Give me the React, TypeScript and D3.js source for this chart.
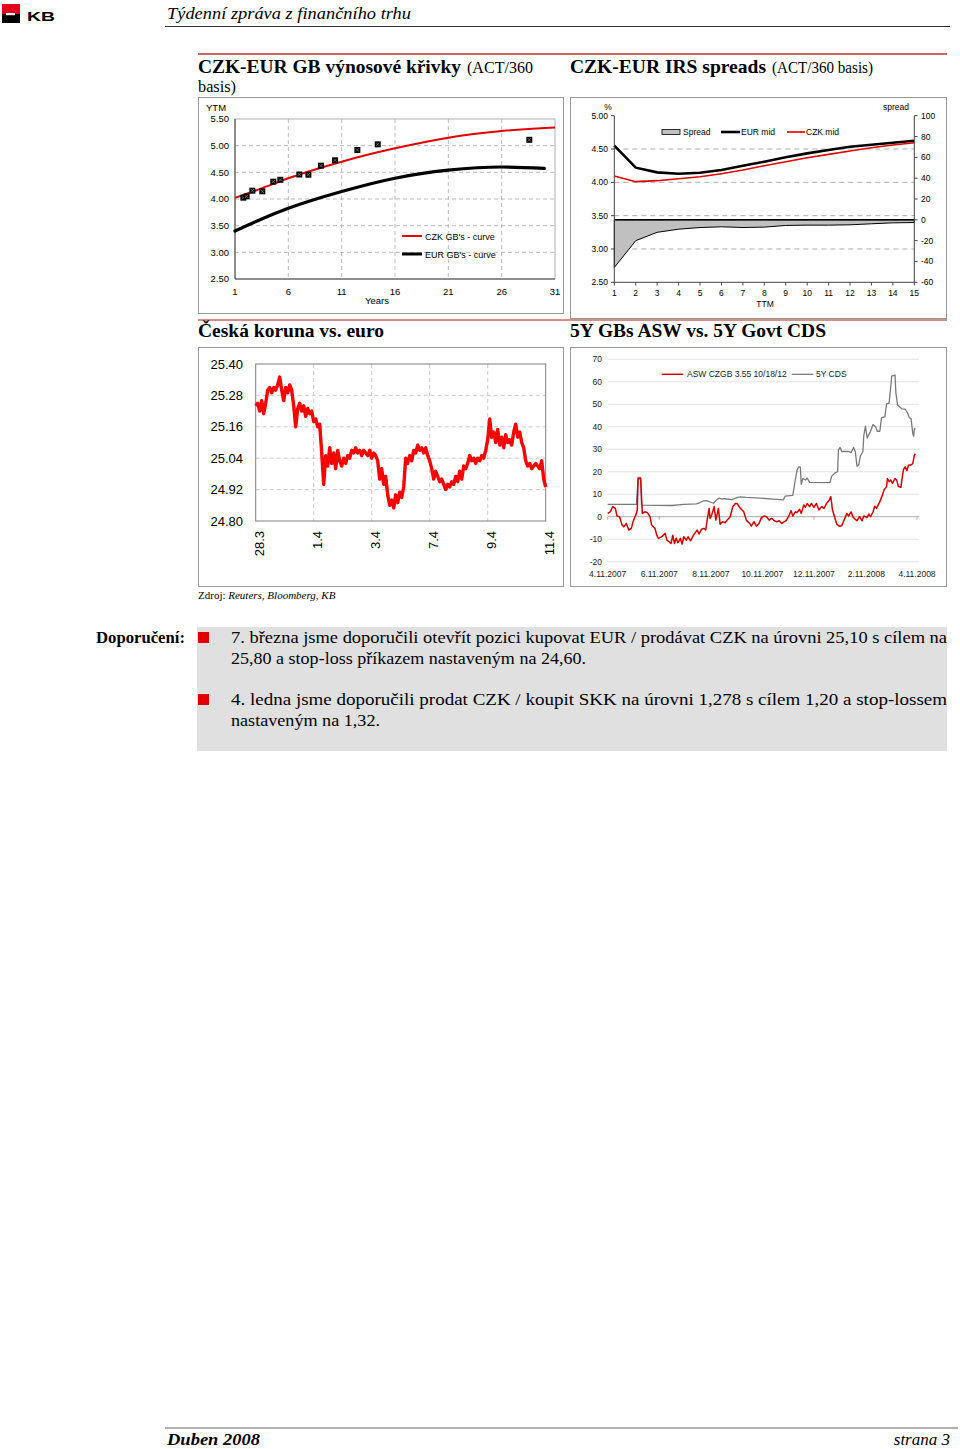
import React from "react";
import * as d3 from "d3";

const SERIF = "'Liberation Serif','Times New Roman',serif";
const SANS = "'Liberation Sans',Arial,sans-serif";

// ---------- Chart 1: CZK-EUR GB yield curves ----------
const gbTicksX = [1, 6, 11, 16, 21, 26, 31];
const gbTicksY = [5.5, 5.0, 4.5, 4.0, 3.5, 3.0, 2.5];
const czkCurveYears = [1, 3.5, 6, 11, 16, 21, 26, 31];
const czkCurveYtm = [4.02, 4.2, 4.39, 4.7, 4.95, 5.15, 5.275, 5.34];
const eurCurveYears = [1, 3.5, 6, 11, 16, 21, 26, 30];
const eurCurveYtm = [3.4, 3.625, 3.825, 4.14, 4.39, 4.54, 4.6, 4.575];
const czkBondYears = [1.78, 2.09, 2.63, 3.56, 4.59, 5.25, 7.03, 7.88, 9.06, 10.38, 12.47, 14.38, 28.59];
const czkBondYtm = [4.025, 4.05, 4.156, 4.144, 4.325, 4.36, 4.46, 4.456, 4.625, 4.725, 4.919, 5.025, 5.11];

// ---------- Chart 2: CZK-EUR IRS spreads ----------
const ttm = [1, 2, 3, 4, 5, 6, 7, 8, 9, 10, 11, 12, 13, 14, 15];
const eurMid = [4.55, 4.22, 4.15, 4.13, 4.145, 4.185, 4.25, 4.31, 4.375, 4.435, 4.485, 4.535, 4.565, 4.595, 4.625];
const czkMid = [4.095, 4.01, 4.025, 4.055, 4.085, 4.13, 4.185, 4.25, 4.31, 4.37, 4.42, 4.47, 4.52, 4.56, 4.595];
const spreadBp = [-45.8, -20, -12, -9, -7.4, -6.7, -7.4, -7, -5.4, -5.1, -5.1, -4.8, -3.8, -2.9, -2.6];
const irsLeftTicks = [5.0, 4.5, 4.0, 3.5, 3.0, 2.5];
const irsRightTicks = [100, 80, 60, 40, 20, 0, -20, -40, -60];

// ---------- Chart 3: EUR/CZK ----------
const fxTickDays = [0, 2, 4, 6, 8, 10];
const fxTickLabels = ["28.3", "1.4", "3.4", "7.4", "9.4", "11.4"];
const fxTicksY = [25.4, 25.28, 25.16, 25.04, 24.92, 24.8];
const eurczk = [
  25.24, 25.25, 25.22, 25.26, 25.21, 25.25, 25.3, 25.31, 25.29, 25.31,
  25.3, 25.32, 25.35, 25.3, 25.26, 25.31, 25.29, 25.32, 25.3, 25.24,
  25.16, 25.23, 25.25, 25.22, 25.24, 25.2, 25.23, 25.21, 25.22, 25.18,
  25.19, 25.16, 25.17, 25.06, 24.94, 25.05, 25.01, 25.08, 25.02, 25.06,
  25.0, 25.07, 25.03, 25.01, 25.04, 25.02, 25.05, 25.04, 25.07, 25.06,
  25.08, 25.06, 25.07, 25.05, 25.07, 25.06, 25.05, 25.07, 25.04, 25.06,
  25.05, 25.03, 24.96, 25.0, 24.94, 24.97, 24.9, 24.86, 24.88, 24.85,
  24.9, 24.87, 24.91, 24.89, 24.93, 25.04, 25.02, 25.05, 25.03, 25.07,
  25.06, 25.09, 25.07, 25.08, 25.06, 25.08, 25.05, 25.03, 25.0, 24.96,
  24.99, 24.97, 24.95, 24.96, 24.94, 24.92, 24.94, 24.93, 24.95, 24.94,
  24.97, 24.95, 24.99, 24.96, 25.01, 25.0, 25.02, 25.05, 25.03, 25.04,
  25.02, 25.04, 25.03, 25.05, 25.04, 25.07, 25.11, 25.19, 25.12, 25.14,
  25.1, 25.15, 25.09, 25.12, 25.08, 25.13, 25.1, 25.11, 25.09, 25.14,
  25.17, 25.12, 25.14, 25.1, 25.08, 25.03, 25.01, 25.02, 25.0, 25.01,
  25.02, 25.01, 25.0, 25.03, 24.96, 24.93,
];

// ---------- Chart 4: ASW vs CDS ----------
const aswStart = new Date(2007, 3, 11);
const aswEnd = new Date(2008, 3, 11);
const aswTickDates = [
  new Date(2007, 3, 11), new Date(2007, 5, 11), new Date(2007, 7, 11), new Date(2007, 9, 11),
  new Date(2007, 11, 11), new Date(2008, 1, 11), new Date(2008, 3, 11),
];
const aswTickLabels = ["4.11.2007", "6.11.2007", "8.11.2007", "10.11.2007", "12.11.2007", "2.11.2008", "4.11.2008"];
const aswTicksY = [70, 60, 50, 40, 30, 20, 10, 0, -10, -20];
const aswDays = [
  0, 3, 6, 9, 11, 14, 17, 19, 22, 25, 28, 30, 34, 35, 36, 39, 41, 44, 47, 50,
  52, 56, 58, 60, 64, 68, 70, 72, 75, 77, 79, 81, 83, 86, 88, 90, 93, 95, 98, 101,
  103, 106, 108, 111, 114, 116, 118, 120, 121, 123, 126, 128, 131, 133, 136, 139, 142, 145, 148, 151,
  153, 157, 159, 161, 164, 168, 170, 173, 176, 179, 182, 185, 188, 191, 194, 197, 200, 203, 206, 209,
  211, 214, 217, 219, 222, 224, 227, 229, 232, 234, 236, 239, 241, 244, 247, 250, 253, 256, 259, 262,
  264, 266, 269, 271, 274, 277, 280, 283, 285, 288, 290, 293, 295, 298, 301, 303, 307, 309, 311, 314,
  316, 318, 321, 322, 325, 327, 330, 331, 333, 335, 337, 340, 342, 344, 347, 348, 350, 352, 354, 356,
  359, 361, 363, 364,
];
const aswValues = [
  1.5, 2.2, 4.5, 3.7, 0.3, 0, -3.7, -4.5, -3, -5.9,
  -5.2, -2.2, 1.5, 3, 17, 17, 1.5, 2.2, 1.8, 0,
  -3.7, -5.2, -8.2, -9.6, -8.9, -7.4, -10.4, -11, -11.9, -8.2,
  -11.9, -9.6, -11.6, -9.6, -12.2, -8.9, -10.4, -8.9, -10.7, -8.5,
  -7.4, -5.9, -7.7, -5.6, -5.2, -5.9, -0.7, 3.7, -0.7, 0.7,
  4.5, -1.5, 3.7, -3.3, -2.2, -2.7, -1.2, 0, 4.5, 5.9,
  5.9, 3.7, 3, 2.2, -1.5, -3, -4.2, -2.2, -4.2, -3,
  -0.3, 0.3, 0, -1.5, -0.7, -1.8, -2.2, -1.8, -3, -2.2,
  -1.8, 0, 2.7, 0.3, 2.2, 1.8, 3.3, 1.5, 5.2, 4.2,
  5.9, 4.5, 5.9, 4.2, 5.9, 3, 4.5, 3.7, 5.9, 7.4,
  8.9, 3, -0.7, -3.3, -4.2, -4, -1.2, 1.5, 0.3, 2.2,
  0, -1.2, -1.8, 0, -1.8, 0.3, -0.3, 1.2, 0, 2.2,
  4.7, 3.7, 5.9, 6.7, 9.6, 11.9, 13.4, 17, 15.6, 16.3,
  14.8, 17, 16.3, 13.4, 13.1, 16.3, 21, 22.2, 20.5, 23,
  23, 23.7, 27.4, 28,
];
const cdsDays = [
  0, 34, 36, 39, 40, 76, 90, 105, 109, 113, 117, 125, 129, 132, 135, 138, 147, 153, 157, 164,
  180, 196, 208, 210, 219, 221, 224, 226, 228, 229, 231, 234, 236, 239, 263, 265, 269, 272, 273, 275,
  277, 285, 288, 291, 293, 295, 297, 299, 302, 303, 305, 307, 309, 311, 314, 317, 319, 322, 324, 328,
  330, 333, 335, 336, 340, 341, 343, 348, 352, 355, 357, 359, 361, 362, 363, 364,
];
const cdsValues = [
  5.5, 5.5, 17.5, 17.5, 5.2, 5.0, 5.5, 5.7, 6.3, 7.0, 7.2, 6.0, 7.5, 8.3, 7.8, 8.0, 7.6, 8.5, 8.8, 8.6,
  8.3, 7.8, 7.5, 9.2, 9.5, 14, 20.7, 22.2, 22, 14.4, 17, 16.3, 17.2, 15.3, 15.2, 18, 19.5, 20, 29.6, 30.8,
  29, 29, 28.5, 30.8, 29, 22.5, 23, 27, 29, 36, 40.3, 35, 36.5, 38, 41, 40, 38, 38, 44, 44.5,
  50.2, 50.5, 58, 62.5, 63, 55, 49.7, 48, 47.8, 46, 44, 43.5, 37, 35.8, 39.3, 38.8,
];

// ---------- Text ----------
const recLines = [
  "7. března jsme doporučili otevřít pozici kupovat EUR / prodávat CZK na úrovni 25,10 s cílem na",
  "25,80 a stop-loss příkazem nastaveným na 24,60.",
  "4. ledna jsme doporučili prodat CZK / koupit SKK na úrovni 1,278 s cílem 1,20 a stop-lossem",
  "nastaveným na 1,32.",
];

function YieldCurves() {
  const x = d3.scaleLinear().domain([1, 31]).range([235, 555]);
  const y = d3.scaleLinear().domain([2.5, 5.5]).range([279, 119]);
  const mk = (xs: number[], ys: number[]) =>
    d3
      .line<number>()
      .x((d) => x(d))
      .y((_, i) => y(ys[i]))
      .curve(d3.curveMonotoneX)(xs) as string;
  return (
    <g fontFamily={SANS}>
      <rect x={235} y={119} width={320} height={160} fill="#fff" stroke="#999" strokeWidth={0.8} />
      {gbTicksY.slice(1, -1).map((t) => (
        <line key={t} x1={235} x2={555} y1={y(t)} y2={y(t)} stroke="#aaa" strokeDasharray="4,3" strokeWidth={0.8} />
      ))}
      {gbTicksX.slice(1, -1).map((t) => (
        <line key={t} x1={x(t)} x2={x(t)} y1={119} y2={279} stroke="#aaa" strokeDasharray="4,3" strokeWidth={0.8} />
      ))}
      <line x1={235} x2={235} y1={119} y2={279} stroke="#444" />
      <line x1={235} x2={555} y1={279} y2={279} stroke="#444" />
      {gbTicksY.map((t) => (
        <text key={t} x={229} y={y(t)} dy="0.35em" fontSize={9.5} textAnchor="end" fill="#000">
          {t.toFixed(2)}
        </text>
      ))}
      {gbTicksX.map((t) => (
        <text key={t} x={x(t)} y={295} fontSize={9.5} textAnchor="middle" fill="#000">
          {t}
        </text>
      ))}
      <text x={206} y={111} fontSize={9.5}>YTM</text>
      <text x={377} y={304} fontSize={9.5} textAnchor="middle">Years</text>
      <path d={mk(eurCurveYears, eurCurveYtm)} fill="none" stroke="#000" strokeWidth={3.2} strokeLinecap="round" />
      <path d={mk(czkCurveYears, czkCurveYtm)} fill="none" stroke="#e00000" strokeWidth={2} />
      {czkBondYears.map((b, i) => (
        <g key={i} transform={`translate(${x(b)},${y(czkBondYtm[i])})`}>
          <rect x={-3} y={-3} width={6} height={6} fill="#000" />
          <path d="M-1.6,-1.6L1.6,1.6M-1.6,1.6L1.6,-1.6" stroke="#888" strokeWidth={0.7} />
        </g>
      ))}
      <line x1={402} x2={422} y1={236} y2={236} stroke="#e00000" strokeWidth={2} />
      <text x={425} y={239.5} fontSize={9}>CZK GB's - curve</text>
      <line x1={402} x2={422} y1={254} y2={254} stroke="#000" strokeWidth={3} />
      <text x={425} y={257.5} fontSize={9}>EUR GB's - curve</text>
    </g>
  );
}

function IrsSpreads() {
  const x = d3.scaleLinear().domain([1, 15]).range([614.3, 914.3]);
  const yL = d3.scaleLinear().domain([2.5, 5]).range([282.3, 115.7]);
  const yR = d3.scaleLinear().domain([-60, 100]).range([282.3, 115.7]);
  const lineOf = (vals: number[]) =>
    d3.line<number>().x((d) => x(d)).y((_, i) => yL(vals[i]))(ttm) as string;
  const area = d3
    .area<number>()
    .x((d) => x(d))
    .y0(() => yR(0))
    .y1((_, i) => yR(spreadBp[i]))(ttm) as string;
  return (
    <g fontFamily={SANS}>
      {[4.5, 4.0, 3.5, 3.0].map((t) => (
        <line key={t} x1={614.3} x2={914.3} y1={yL(t)} y2={yL(t)} stroke="#999" strokeDasharray="5,4" strokeWidth={0.8} />
      ))}
      <path d={area} fill="#c0c0c0" stroke="#000" strokeWidth={1} />
      <line x1={x(1)} x2={x(15)} y1={yR(0)} y2={yR(0)} stroke="#000" strokeWidth={1.5} />
      <path d={lineOf(eurMid)} fill="none" stroke="#000" strokeWidth={2.6} />
      <path d={lineOf(czkMid)} fill="none" stroke="#e00000" strokeWidth={1.6} />
      <line x1={614.3} x2={614.3} y1={115.7} y2={282.3} stroke="#444" />
      <line x1={914.3} x2={914.3} y1={115.7} y2={282.3} stroke="#444" />
      <line x1={614.3} x2={914.3} y1={282.3} y2={282.3} stroke="#444" />
      {irsLeftTicks.map((t) => (
        <g key={t}>
          <line x1={611} x2={614.3} y1={yL(t)} y2={yL(t)} stroke="#444" />
          <text x={608} y={yL(t)} dy="0.35em" fontSize={8.5} textAnchor="end">
            {t.toFixed(2)}
          </text>
        </g>
      ))}
      {irsRightTicks.map((t) => (
        <g key={t}>
          <line x1={914.3} x2={917.5} y1={yR(t)} y2={yR(t)} stroke="#444" />
          <text x={921} y={yR(t)} dy="0.35em" fontSize={8.5}>
            {t}
          </text>
        </g>
      ))}
      {ttm.map((t) => (
        <g key={t}>
          <line x1={x(t)} x2={x(t)} y1={282.3} y2={285.5} stroke="#444" />
          <text x={x(t)} y={296} fontSize={8.5} textAnchor="middle">
            {t}
          </text>
        </g>
      ))}
      <text x={765} y={307} fontSize={8.5} textAnchor="middle">TTM</text>
      <text x={608} y={110} fontSize={8.5} textAnchor="middle">%</text>
      <text x={896} y={110} fontSize={8.5} textAnchor="middle">spread</text>
      <rect x={662} y={129.5} width={18} height={5} fill="#c0c0c0" stroke="#000" strokeWidth={0.8} />
      <text x={683} y={135} fontSize={8.5}>Spread</text>
      <line x1={721} x2={740} y1={132} y2={132} stroke="#000" strokeWidth={2.6} />
      <text x={741} y={135} fontSize={8.5}>EUR mid</text>
      <line x1={787} x2={805} y1={132} y2={132} stroke="#e00000" strokeWidth={1.6} />
      <text x={806} y={135} fontSize={8.5}>CZK mid</text>
    </g>
  );
}

function EurCzk() {
  const x = d3.scaleLinear().domain([0, 10]).range([255.7, 545.7]);
  const y = d3.scaleLinear().domain([24.8, 25.4]).range([521, 364]);
  const step = 10 / (eurczk.length - 1);
  const path = d3
    .line<number>()
    .x((_, i) => x(i * step))
    .y((d) => y(d))(eurczk) as string;
  return (
    <g fontFamily={SANS}>
      {fxTicksY.slice(1, -1).map((t) => (
        <line key={t} x1={255.7} x2={545.7} y1={y(t)} y2={y(t)} stroke="#bbb" strokeDasharray="4,3" strokeWidth={0.8} />
      ))}
      {fxTickDays.slice(1, -1).map((t) => (
        <line key={t} x1={x(t)} x2={x(t)} y1={364} y2={521} stroke="#bbb" strokeDasharray="4,3" strokeWidth={0.8} />
      ))}
      <rect x={255.7} y={364} width={290} height={157} fill="none" stroke="#808080" strokeWidth={1} />
      {fxTicksY.map((t) => (
        <text key={t} x={243} y={y(t)} dy="0.36em" fontSize={13} textAnchor="end">
          {t.toFixed(2)}
        </text>
      ))}
      {fxTickDays.map((t, i) => (
        <text key={t} transform={`translate(${x(t) + 8},531) rotate(-90)`} fontSize={13} textAnchor="end">
          {fxTickLabels[i]}
        </text>
      ))}
      <path d={path} fill="none" stroke="#ff0000" strokeWidth={3.4} strokeLinejoin="round" />
    </g>
  );
}

function AswCds() {
  const x = d3.scaleTime().domain([aswStart, aswEnd]).range([607.7, 917]);
  const y = d3.scaleLinear().domain([-20, 70]).range([561.7, 359.3]);
  const dayDate = (d: number) => d3.timeDay.offset(aswStart, d);
  const aswPath = d3
    .line<number>()
    .x((d) => x(dayDate(d)))
    .y((_, i) => y(aswValues[i]))(aswDays) as string;
  const cdsPath = d3
    .line<number>()
    .x((d) => x(dayDate(d)))
    .y((_, i) => y(cdsValues[i]))(cdsDays) as string;
  return (
    <g fontFamily={SANS}>
      {aswTicksY.map((t) => (
        <g key={t}>
          {t !== 0 && <line x1={607.7} x2={919} y1={y(t)} y2={y(t)} stroke="#dcdcdc" strokeWidth={0.8} />}
          <text x={602} y={y(t)} dy="0.35em" fontSize={8.5} textAnchor="end" fill="#222">
            {t}
          </text>
        </g>
      ))}
      <line x1={607.7} x2={919} y1={y(0)} y2={y(0)} stroke="#a0a0a0" strokeWidth={0.9} />
      {aswTickDates.map((d, i) => (
        <g key={i}>
          <line x1={x(d)} x2={x(d)} y1={y(0)} y2={y(0) + 3} stroke="#a0a0a0" strokeWidth={0.8} />
          <text x={x(d)} y={576.5} fontSize={8.5} textAnchor="middle" fill="#222">
            {aswTickLabels[i]}
          </text>
        </g>
      ))}
      <path d={cdsPath} fill="none" stroke="#7a7a7a" strokeWidth={1.3} strokeLinejoin="round" />
      <path d={aswPath} fill="none" stroke="#d40000" strokeWidth={1.5} strokeLinejoin="round" />
      <line x1={661.7} x2={683.3} y1={374.3} y2={374.3} stroke="#d40000" strokeWidth={1.5} />
      <text x={687} y={377.3} fontSize={8.5} fill="#222">ASW CZGB 3.55 10/18/12</text>
      <line x1={791.7} x2={813.3} y1={374.3} y2={374.3} stroke="#7a7a7a" strokeWidth={1.3} />
      <text x={816} y={377.3} fontSize={8.5} fill="#222">5Y CDS</text>
    </g>
  );
}

export default function App() {
  return (
    <svg
      width={960}
      height={1449}
      viewBox="0 0 960 1449"
      style={{ position: "absolute", left: 0, top: 0, background: "#fff" }}
    >
      <rect x={0} y={0} width={960} height={1449} fill="#fff" />
      {/* logo */}
      <rect x={2} y={4} width={18} height={10} fill="#e2001a" />
      <rect x={2} y={14} width={18} height={9} fill="#000" />
      <rect x={6} y={13} width={9} height={2.2} fill="#fff" />
      <text x={27} y={20.5} fontFamily={SANS} fontWeight="bold" fontSize={12} textLength={28} lengthAdjust="spacingAndGlyphs">
        KB
      </text>
      {/* header */}
      <text x={167} y={19} fontFamily={SERIF} fontStyle="italic" fontSize={17.5} textLength={244} lengthAdjust="spacingAndGlyphs">
        Týdenní zpráva z finančního trhu
      </text>
      <line x1={165} x2={950} y1={26.5} y2={26.5} stroke="#333" strokeWidth={1} />
      {/* section */}
      <line x1={198} x2={947} y1={54} y2={54} stroke="#c46a62" strokeWidth={2} />
      <text x={198} y={73} fontFamily={SERIF} fontWeight="bold" fontSize={19.5} textLength={263} lengthAdjust="spacingAndGlyphs">
        CZK-EUR GB výnosové křivky
      </text>
      <text x={467} y={73} fontFamily={SERIF} fontSize={16} textLength={66} lengthAdjust="spacingAndGlyphs">
        (ACT/360
      </text>
      <text x={198} y={92} fontFamily={SERIF} fontSize={16} textLength={38} lengthAdjust="spacingAndGlyphs">
        basis)
      </text>
      <text x={570} y={73} fontFamily={SERIF} fontWeight="bold" fontSize={19.5} textLength={196} lengthAdjust="spacingAndGlyphs">
        CZK-EUR IRS spreads
      </text>
      <text x={772} y={73} fontFamily={SERIF} fontSize={16} textLength={101} lengthAdjust="spacingAndGlyphs">
        (ACT/360 basis)
      </text>
      <rect x={198.5} y={97.5} width={365} height={216} fill="none" stroke="#999" />
      <rect x={570.5} y={97.5} width={376} height={221} fill="none" stroke="#999" />
      <line x1={198} x2={947} y1={320} y2={320} stroke="#c46a62" strokeWidth={1.5} />
      <YieldCurves />
      <IrsSpreads />
      <text x={198} y={337} fontFamily={SERIF} fontWeight="bold" fontSize={19.5} textLength={186} lengthAdjust="spacingAndGlyphs">
        Česká koruna vs. euro
      </text>
      <text x={570} y={337} fontFamily={SERIF} fontWeight="bold" fontSize={19.5} textLength={256} lengthAdjust="spacingAndGlyphs">
        5Y GBs ASW vs. 5Y Govt CDS
      </text>
      <rect x={198.5} y={347.5} width={365} height={239} fill="none" stroke="#999" />
      <rect x={570.5} y={347.5} width={376} height={239} fill="none" stroke="#999" />
      <EurCzk />
      <AswCds />
      <text x={198} y={599} fontFamily={SERIF} fontSize={11}>
        Zdroj: <tspan fontStyle="italic">Reuters, Bloomberg, KB</tspan>
      </text>
      {/* recommendations */}
      <text x={96} y={643} fontFamily={SERIF} fontWeight="bold" fontSize={16.5} textLength={89} lengthAdjust="spacingAndGlyphs">
        Doporučení:
      </text>
      <rect x={197} y={627} width={750} height={124} fill="#e0e0e0" />
      <rect x={198} y={632} width={11} height={11} fill="#e00000" />
      <rect x={198} y={694} width={11} height={11} fill="#e00000" />
      <g fontFamily={SERIF} fontSize={17}>
        <text x={231} y={643} textLength={716} lengthAdjust="spacingAndGlyphs">{recLines[0]}</text>
        <text x={231} y={664} textLength={355} lengthAdjust="spacingAndGlyphs">{recLines[1]}</text>
        <text x={231} y={705} textLength={716} lengthAdjust="spacingAndGlyphs">{recLines[2]}</text>
        <text x={231} y={726} textLength={149} lengthAdjust="spacingAndGlyphs">{recLines[3]}</text>
      </g>
      {/* footer */}
      <line x1={165} x2={958} y1={1428} y2={1428} stroke="#b0b0b0" strokeWidth={2} />
      <text x={167} y={1444.5} fontFamily={SERIF} fontWeight="bold" fontStyle="italic" fontSize={17} textLength={93} lengthAdjust="spacingAndGlyphs">
        Duben 2008
      </text>
      <text x={950} y={1444.5} fontFamily={SERIF} fontStyle="italic" fontSize={17} textAnchor="end">
        strana 3
      </text>
    </svg>
  );
}
